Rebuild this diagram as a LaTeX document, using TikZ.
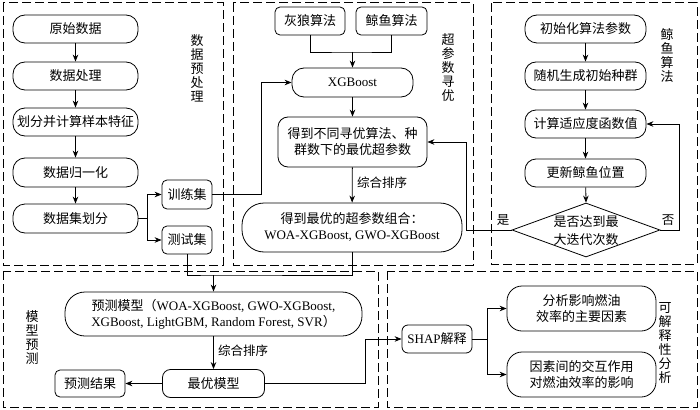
\documentclass[tikz,border=0pt]{standalone}
\usepackage{fontspec}
\setmainfont{Liberation Serif}
\newfontfamily\cjk{Noto Sans CJK SC}
\usetikzlibrary{shapes.geometric,arrows.meta}
\newcommand{\zh}[1]{{\cjk #1}}
\tikzset{
  box/.style={draw, line width=0.8pt, rectangle, inner sep=1pt, align=center,
    font=\fontsize{13}{16}\selectfont},
  frame/.style={draw, line width=1pt, dash pattern=on 9pt off 4pt},
  arr/.style={-{Stealth[length=7pt,width=5.5pt]}, line width=0.8pt},
  ln/.style={line width=0.8pt},
  vlabel/.style={align=center, font=\fontsize{13}{14}\selectfont, inner sep=0pt},
  lbl/.style={font=\fontsize{12.5}{14}\selectfont, inner sep=0pt},
}
\begin{document}
\begin{tikzpicture}[x=1pt,y=-1pt]
\useasboundingbox (0,0) rectangle (700,409);
% frames
\draw[frame] (3,3) rectangle (223,265);
\draw[frame] (233,3) rectangle (473,265);
\draw[frame] (491,3) rectangle (697,264);
\draw[frame] (3,271) rectangle (378,407);
\draw[frame] (387,271) rectangle (697,407);

% left panel
\node[box, rounded corners=12pt, minimum width=125pt, minimum height=28pt] (n1) at (75.5,29) {\zh{原始数据}};
\node[box, rounded corners=12pt, minimum width=125pt, minimum height=28pt] (n2) at (75.5,76) {\zh{数据处理}};
\node[box, rounded corners=12pt, minimum width=125pt, minimum height=28pt] (n3) at (75.5,122) {\zh{划分并计算样本特征}};
\node[box, rounded corners=12pt, minimum width=125pt, minimum height=29pt] (n4) at (75.5,172.5) {\zh{数据归一化}};
\node[box, rounded corners=12pt, minimum width=125pt, minimum height=29pt] (n5) at (75.5,218.5) {\zh{数据集划分}};
\node[box, rounded corners=5pt, minimum width=50pt, minimum height=29pt] (train) at (187,194.5) {\zh{训练集}};
\node[box, rounded corners=5pt, minimum width=50pt, minimum height=28pt] (test) at (187,240) {\zh{测试集}};
\node[vlabel] (lab1) at (197,68.5) {\zh{数}\\\zh{据}\\\zh{预}\\\zh{处}\\\zh{理}};

% middle panel
\node[box, rounded corners=5pt, minimum width=70pt, minimum height=28pt] (wolf) at (310,21) {\zh{灰狼算法}};
\node[box, rounded corners=5pt, minimum width=71pt, minimum height=28pt] (whale) at (391.5,21) {\zh{鲸鱼算法}};
\node[box, rounded corners=12pt, minimum width=121pt, minimum height=29pt] (xgb) at (352.5,82.5) {XGBoost};
\node[box, rounded corners=10pt, minimum width=149pt, minimum height=50pt] (opt) at (352.5,142) {\zh{得到不同寻优算法、种}\\\zh{群数下的最优超参数}};
\node[box, rounded corners=22pt, minimum width=220pt, minimum height=49pt] (best) at (352,227.5) {\zh{得到最优的超参数组合：}\\WOA-XGBoost, GWO-XGBoost};
\node[vlabel] (lab2) at (448,67.5) {\zh{超}\\\zh{参}\\\zh{数}\\\zh{寻}\\\zh{优}};
\node[lbl, anchor=west] (sort1) at (357,183) {\zh{综合排序}};

% right panel
\node[box, rounded corners=12pt, minimum width=121pt, minimum height=28pt] (r1) at (585.5,29) {\zh{初始化算法参数}};
\node[box, rounded corners=11pt, minimum width=121pt, minimum height=28pt] (r2) at (585.5,76) {\zh{随机生成初始种群}};
\node[box, rounded corners=11pt, minimum width=121pt, minimum height=28pt] (r3) at (585.5,124) {\zh{计算适应度函数值}};
\node[box, rounded corners=11pt, minimum width=121pt, minimum height=28pt] (r4) at (585.5,173) {\zh{更新鲸鱼位置}};
\node[draw, line width=0.8pt, diamond, inner sep=0pt, minimum width=148pt, minimum height=54pt] (dia) at (586,230) {};
\node[align=center, inner sep=0pt, font=\fontsize{13}{18}\selectfont] (diatext) at (586,231) {\zh{是否达到最}\\\zh{大迭代次数}};
\node[vlabel] (lab3) at (667,56) {\zh{鲸}\\\zh{鱼}\\\zh{算}\\\zh{法}};
\node[lbl] (yes) at (503,220) {\zh{是}};
\node[lbl] (no) at (668,220) {\zh{否}};

% bottom left
\node[box, rounded corners=20pt, minimum width=297pt, minimum height=44pt] (pred) at (213.5,314) {\zh{预测模型（}WOA-XGBoost, GWO-XGBoost,\\XGBoost, LightGBM, Random Forest, SVR\zh{）}};
\node[box, rounded corners=8pt, minimum width=102pt, minimum height=28pt] (bestm) at (213.5,383.5) {\zh{最优模型}};
\node[box, rounded corners=5pt, minimum width=70pt, minimum height=27pt] (result) at (90,383.5) {\zh{预测结果}};
\node[lbl, anchor=west] (sort2) at (218,351) {\zh{综合排序}};
\node[vlabel] (lab4) at (32,338) {\zh{模}\\\zh{型}\\\zh{预}\\\zh{测}};

% bottom right
\node[box, rounded corners=6pt, minimum width=70pt, minimum height=28pt] (shap) at (437,339) {SHAP\zh{解释}};
\node[box, rounded corners=15pt, minimum width=149pt, minimum height=45pt] (f1) at (581.5,308.5) {\zh{分析影响燃油}\\\zh{效率的主要因素}};
\node[box, rounded corners=15pt, minimum width=149pt, minimum height=45pt] (f2) at (581.5,374.5) {\zh{因素间的交互作用}\\\zh{对燃油效率的影响}};
\node[vlabel] (lab5) at (665,343) {\zh{可}\\\zh{解}\\\zh{释}\\\zh{性}\\\zh{分}\\\zh{析}};

% coordinates
\coordinate (b1) at (147,218.5);
\coordinate (j1) at (352.5,52);
\coordinate (jb) at (213.5,275);
\coordinate (b2) at (487,339);

% connectors left
\draw[arr] (n1) -- (n2);
\draw[arr] (n2) -- (n3);
\draw[arr] (n3) -- (n4);
\draw[arr] (n4) -- (n5);
\draw[ln] (n5.east) -- (b1);
\draw[arr] (b1) |- (train.west);
\draw[arr] (b1) |- (test.west);
\draw[arr] (train.east) -- ++(49,0) |- (xgb.west);
\draw[ln] (test.south) |- (jb) -| (best.south);
\draw[arr] (jb) -- (pred.north);

% connectors middle
\draw[ln] (wolf.south) |- (j1) -| (whale.south);
\draw[arr] (j1) -- (xgb.north);
\draw[arr] (xgb) -- (opt);
\draw[arr] (opt) -- (best);

% connectors right
\draw[arr] (r1) -- (r2);
\draw[arr] (r2) -- (r3);
\draw[arr] (r3) -- (r4);
\draw[arr] (r4) -- (dia.north);
\draw[arr] (dia.east) -- ++(19,0) |- (r3.east);
\draw[arr] (dia.west) -- ++(-45,0) |- (opt.east);

% connectors bottom
\draw[arr] (pred.south) -- (bestm.north);
\draw[arr] (bestm.west) -- (result.east);
\draw[arr] (bestm.east) -- ++(100,0) |- (shap.west);
\draw[ln] (shap.east) -- (b2);
\draw[arr] (b2) |- (f1.west);
\draw[arr] (b2) |- (f2.west);
\end{tikzpicture}
\end{document}
